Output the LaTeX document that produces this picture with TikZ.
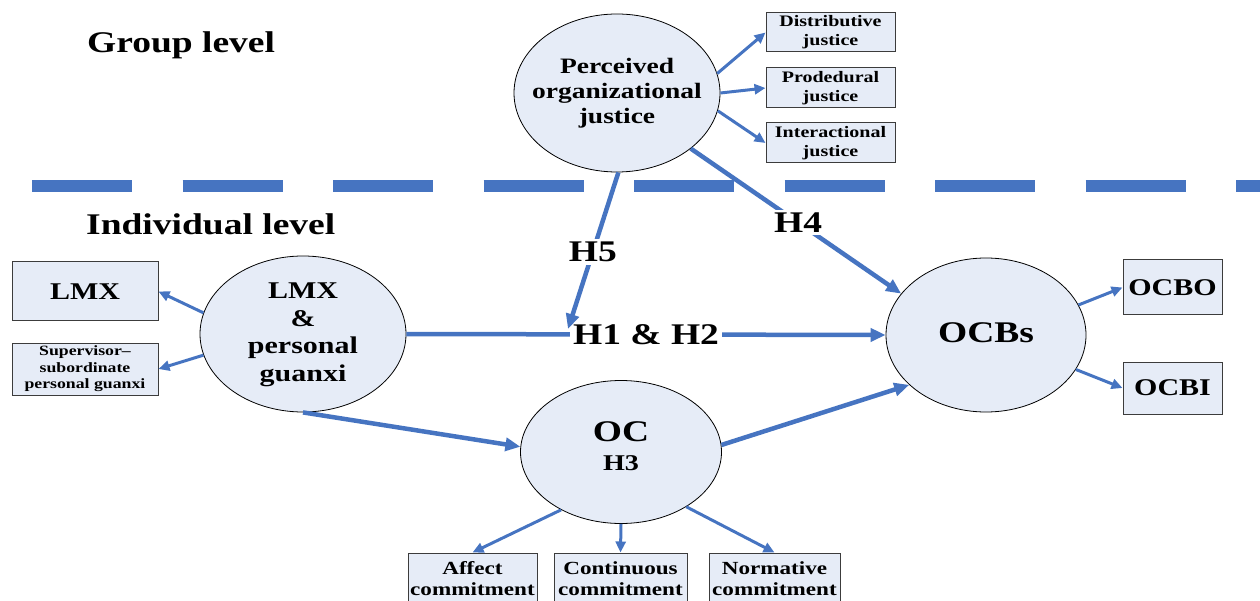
\documentclass[tikz,border=0pt]{standalone}
\usepackage{fontspec}
\setmainfont{Liberation Serif}[FakeStretch=1.25]
\usetikzlibrary{shapes.geometric,arrows.meta}
\definecolor{myblue}{RGB}{70,116,193}
\definecolor{ellfill}{RGB}{230,236,247}
\definecolor{boxdraw}{RGB}{60,60,60}
\newcommand\fsz[2]{\fontsize{#1}{#2}\selectfont\bfseries}
\tikzset{
  ell/.style={ellipse, draw=black, line width=0.8pt, fill=ellfill, inner sep=0pt},
  bx/.style={rectangle, draw=boxdraw, line width=1pt, fill=ellfill, inner sep=0pt, align=center},
  txt/.style={align=center, inner sep=0pt},
  arr/.style={draw=myblue, line width=3pt, -{Triangle[length=11pt,width=10pt]}},
  bigarr/.style={draw=myblue, line width=4.5pt, -{Triangle[length=15pt,width=13pt]}},
  lbl/.style={fill=white, inner sep=3pt, font=\fsz{30}{32}},
}
\begin{document}
\begin{tikzpicture}[x=1pt,y=-1pt]
\useasboundingbox (0,0) rectangle (1260,601);
% level separator
\draw[myblue, line width=12.5pt, dash pattern=on 100pt off 50.5pt] (32,186) -- (1270,186);
\node[anchor=base west, inner sep=0pt, font=\fsz{30}{32}] (grp) at (87,53) {Group level};
\node[anchor=base west, inner sep=0pt, font=\fsz{30}{32}] (ind) at (86,235) {Individual level};

% ellipses
\node[ell, minimum width=206pt, minimum height=158pt] (poj) at (617,93) {};
\node[txt, font=\fsz{22}{25}] (pojt) at (poj) {Perceived\\organizational\\justice};
\node[ell, minimum width=206pt, minimum height=156pt] (lmx) at (303,334) {};
\node[txt, font=\fsz{24}{27.5}] (lmxt) at (303,335) {LMX\\\&\\personal\\guanxi};
\node[ell, minimum width=200pt, minimum height=154pt] (ocbs) at (986,335) {};
\node[txt, font=\fsz{30}{32}] (ocbst) at (986,333) {OCBs};
\node[ell, minimum width=201pt, minimum height=143pt] (oc) at (621,452) {};
\node[txt, font=\fsz{30}{32}] (oct) at (621,432) {OC};
\node[txt, font=\fsz{22.5}{24}] (h3) at (621,463) {H3};

% boxes
\node[bx, minimum width=129pt, minimum height=39pt, font=\fsz{16}{19}] (dist) at (830.5,32.5) {Distributive\\justice};
\node[bx, minimum width=129pt, minimum height=40pt, font=\fsz{16}{19}] (prod) at (830.5,88) {Prodedural\\justice};
\node[bx, minimum width=129pt, minimum height=40pt, font=\fsz{16}{19}] (inter) at (830.5,143) {Interactional\\justice};
\node[bx, minimum width=146pt, minimum height=59pt, font=\fsz{24}{26}] (lmxb) at (85,291.5) {LMX};
\node[bx, minimum width=146pt, minimum height=52pt, font=\fsz{14.2}{16.5}] (supb) at (85,369) {Supervisor--\\subordinate\\personal guanxi};
\node[bx, minimum width=99pt, minimum height=55pt, font=\fsz{24}{26}] (ocbo) at (1172.5,287.5) {OCBO};
\node[bx, minimum width=99pt, minimum height=52pt, font=\fsz{24}{26}] (ocbi) at (1172.5,388) {OCBI};
\node[bx, minimum width=129pt, minimum height=51pt, font=\fsz{18.5}{21}] (aff) at (472.5,578.5) {Affect\\commitment};
\node[bx, minimum width=133pt, minimum height=51pt, font=\fsz{18.5}{21}] (cont) at (620.5,578.5) {Continuous\\commitment};
\node[bx, minimum width=131pt, minimum height=51pt, font=\fsz{18.5}{21}] (norm) at (774.5,578.5) {Normative\\commitment};

% thin arrows
\draw[arr] (poj.11.7) -- (dist.west);
\draw[arr] (poj.0) -- (prod.west);
\draw[arr] (poj.-10.6) -- (inter.west);
\draw[arr] (lmx.168) -- (lmxb.east);
\draw[arr] (lmx.-168.4) -- (supb.east);
\draw[arr] (ocbs.18.8) -- (ocbo.west);
\draw[arr] (ocbs.-21.7) -- (ocbi.west);
\draw[arr] (oc.-136) -- (aff.north);
\draw[arr] (oc.south) -- (cont.north);
\draw[arr] (oc.-40.6) -- (norm.north);

% hypothesis arrows
\draw[bigarr] (lmx.east) -- node[lbl] (h12) {H1 \& H2} (ocbs.west);
\draw[bigarr] (lmx.south) -- (oc.177);
\draw[bigarr] (oc.4) -- (ocbs.-147.6);
\draw[bigarr] (poj.-37) -- node[lbl, pos=0.51] (h4) {H4} (ocbs.154.7);
\coordinate (h5end) at (568,329);
\draw[bigarr] (poj.-89) -- node[lbl, pos=0.506] (h5) {H5} (h5end);
\end{tikzpicture}
\end{document}
